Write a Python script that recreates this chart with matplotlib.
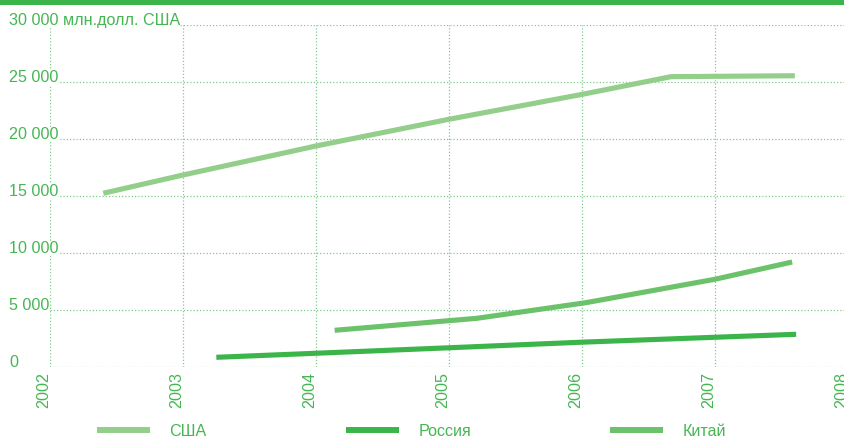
import matplotlib
matplotlib.use("Agg")
import matplotlib.pyplot as plt
from matplotlib.transforms import blended_transform_factory
from matplotlib.patches import Rectangle

plt.rcParams['font.family'] = ['Liberation Sans', 'DejaVu Sans']

# ---- data ----
usa_x = [2002.40, 2003.0, 2004.0, 2005.0, 2006.0, 2006.67, 2007.60]
usa_y = [15240, 16840, 19380, 21720, 23900, 25450, 25530]

rus_x = [2003.25, 2004.0, 2005.0, 2006.0, 2007.0, 2007.61]
rus_y = [875, 1230, 1710, 2200, 2630, 2890]

chn_x = [2004.14, 2005.21, 2006.03, 2007.00, 2007.58]
chn_y = [3240, 4290, 5660, 7710, 9220]

series_names = ['США', 'Россия', 'Китай']
series_colors = ['#93cf8b', '#3bb54a', '#6cc26a']

years = [2002, 2003, 2004, 2005, 2006, 2007, 2008]
y_ticks = [0, 5000, 10000, 15000, 20000, 25000, 30000]
y_labels = ['0', '5 000', '10 000', '15 000', '20 000', '25 000', '30 000 млн.долл. США']

text_color = '#45b653'
grid_color = '#7fcd89'

W, H = 844, 437
fig = plt.figure(figsize=(W / 100, H / 100), dpi=100)
fig.patch.set_facecolor('white')

x0, x1 = 50.1, 848.0
yb, yt = 367.3, 24.7
ax = fig.add_axes([x0 / W, 1 - yb / H, (x1 - x0) / W, (yb - yt) / H])
ax.set_xlim(2002, 2008)
ax.set_ylim(0, 30000)
for s in ax.spines.values():
    s.set_visible(False)
ax.set_xticks(years)
ax.set_yticks(y_ticks)
ax.tick_params(length=0, labelbottom=False, labelleft=False)
ax.grid(True, color=grid_color, linestyle=(0, (1, 1.6)), linewidth=0.9)
ax.set_axisbelow(True)

lw = 3.7
for xs, ys, name, c in zip([usa_x, rus_x, chn_x], [usa_y, rus_y, chn_y],
                           series_names, series_colors):
    ax.plot(xs, ys, color=c, lw=lw, solid_capstyle='butt',
            solid_joinstyle='miter', label=name, zorder=3)

fs = 11.6

# y labels
tr = blended_transform_factory(fig.transFigure, ax.transData)
for v, lab in zip(y_ticks, y_labels):
    ax.text(9 / W, v, lab, transform=tr, ha='left', va='baseline',
            fontsize=fs, color=text_color, zorder=2,
            bbox=dict(facecolor='white', edgecolor='none', pad=0.0))

# x labels
xtr = ax.get_xaxis_transform()
for yr in years:
    ax.text(yr + 0.01, -0.014, str(yr), transform=xtr, rotation=90,
            ha='right', va='top', fontsize=fs, color=text_color,
            clip_on=False)

# top bar
fig.add_artist(Rectangle((0, 1 - 4.7 / H), 1, 4.7 / H, transform=fig.transFigure,
                         facecolor='#3bb54a', edgecolor='none'))

# legend
handles, labels = ax.get_legend_handles_labels()
leg = fig.legend(handles, labels, loc='center left',
                 bbox_to_anchor=(97 / W, 1 - 431 / H), ncol=3, frameon=False,
                 fontsize=fs, handlelength=3.3, handletextpad=1.2,
                 columnspacing=8.62, borderpad=0, borderaxespad=0,
                 labelcolor=text_color)
for h in leg.get_lines():
    h.set_linewidth(4.3)

fig.savefig('out.png', dpi=100)
